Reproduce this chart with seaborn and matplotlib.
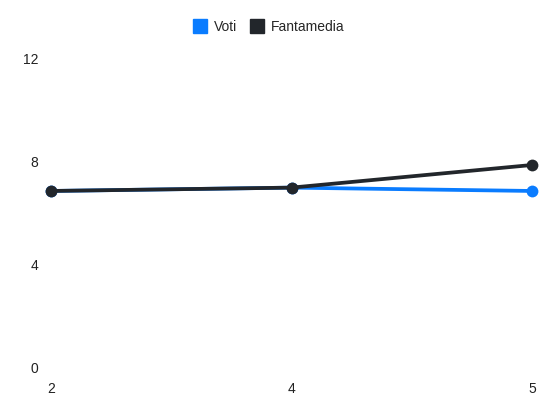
import pandas as pd
import matplotlib
matplotlib.use("Agg")
import matplotlib.pyplot as plt
import seaborn as sns
from matplotlib.lines import Line2D

# valori
giornate = ["2", "4", "5"]
voti = [6.87, 7.0, 6.87]
fantamedia = [6.87, 7.0, 7.88]

df = pd.DataFrame({
    "giornata": giornate * 2,
    "valore": voti + fantamedia,
    "serie": ["Voti"] * 3 + ["Fantamedia"] * 3,
})

colori = {"Voti": "#0a7cff", "Fantamedia": "#22262b"}

sns.set_style("white")
plt.rcParams["font.family"] = ["Liberation Sans", "DejaVu Sans"]

fig = plt.figure(figsize=(5.5, 4.12), dpi=100)
ax = fig.add_axes([51 / 550, (412 - 367.7) / 412, (532 - 51) / 550, (367.7 - 59) / 412])

sns.lineplot(data=df, x="giornata", y="valore", hue="serie", palette=colori,
             hue_order=["Voti", "Fantamedia"], marker="o", markersize=8.5,
             markeredgewidth=0, linewidth=2.7, sort=False, ax=ax, legend=False,
             clip_on=False)

ax.set_xlim(0, 2)
ax.set_ylim(0, 12)
ax.set_yticks([0, 4, 8, 12])
ax.set_xlabel("")
ax.set_ylabel("")
for s in ax.spines.values():
    s.set_visible(False)
ax.tick_params(axis="y", length=0, pad=9, labelsize=10, labelcolor="#222222")
ax.tick_params(axis="x", length=0, pad=10, labelsize=10, labelcolor="#222222")
for lab in ax.get_yticklabels():
    lab.set_horizontalalignment("right")

handles = [Line2D([], [], marker="s", linestyle="", markersize=10, color=colori[k])
           for k in ["Voti", "Fantamedia"]]
fig.legend(handles, ["Voti", "Fantamedia"], loc="center", bbox_to_anchor=(269 / 550, 1 - 27 / 412),
           ncol=2, frameon=False, fontsize=10, handletextpad=0.5, columnspacing=0.9,
           handlelength=1.0)

fig.savefig("out.png", dpi=100)
